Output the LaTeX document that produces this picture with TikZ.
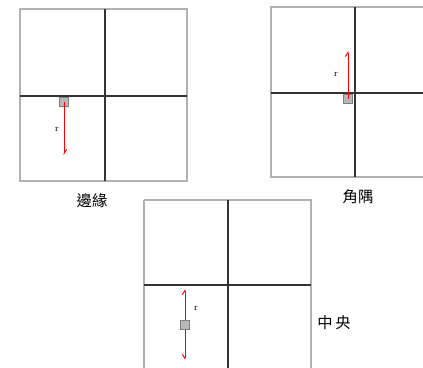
\documentclass[tikz,border=0pt]{standalone}
\usepackage{fontspec}
\newfontfamily\cjk{Noto Sans CJK TC}
\usetikzlibrary{arrows.meta}
\begin{document}
\begin{tikzpicture}[x=0.75pt,y=-0.75pt,
  outerbox/.style={draw=black!30,line width=1pt},
  divider/.style={draw=black!80,line width=1.3pt},
  probe/.style={draw=black!50,fill=black!28,line width=0.6pt,minimum size=6.5pt,inner sep=0pt},
  vec/.style={draw=red,line width=0.7pt},
  rlabel/.style={font=\fontsize{7}{8}\selectfont,inner sep=0pt},
  caption/.style={font=\cjk\fontsize{11.5}{13}\selectfont,inner sep=0pt}]
\useasboundingbox (0,0) rectangle (423,367);
% panel 1: edge
\draw[outerbox] (20,9) rectangle (187,181);
\draw[divider] (105,9) -- (105,181);
\draw[divider] (20,96) -- (187,96);
\node[probe] (p1) at (64,102) {};
\coordinate (e1) at (64,155);
\draw[vec,-{Straight Barb[left,length=3pt,width=4pt]}] (p1.center) -- (e1);
\node[rlabel] (r1) at (57,129) {r};
\node[caption] (c1) at (92,201) {邊緣};
% panel 2: corner
\draw[outerbox] (271,7) rectangle (440,177);
\draw[divider] (355,7) -- (355,177);
\draw[divider] (271,93) -- (440,93);
\node[probe] (p2) at (348,99) {};
\coordinate (e2) at (348,51);
\draw[vec,-{Straight Barb[left,length=3pt,width=4pt]}] (p2.center) -- (e2);
\node[rlabel] (r2) at (336,74) {r};
\node[caption] (c2) at (358,197) {角隅};
% panel 3: center
\draw[outerbox] (144,200) -- (144,375) (144,200) -- (311,200) -- (311,375);
\draw[divider] (228,200) -- (228,375);
\draw[divider] (144,285) -- (311,285);
\coordinate (t3) at (185,289);
\coordinate (b3) at (185,360);
\draw[vec,{Straight Barb[left,length=3pt,width=4pt]}-{Straight Barb[right,length=3pt,width=4pt]}] (t3) -- (b3);
\node[probe] (p3) at (185,325) {};
\node[rlabel] (r3) at (196,308) {r};
\node[caption] (c3) at (334,323) {中\hspace{2pt}央};
\end{tikzpicture}
\end{document}
